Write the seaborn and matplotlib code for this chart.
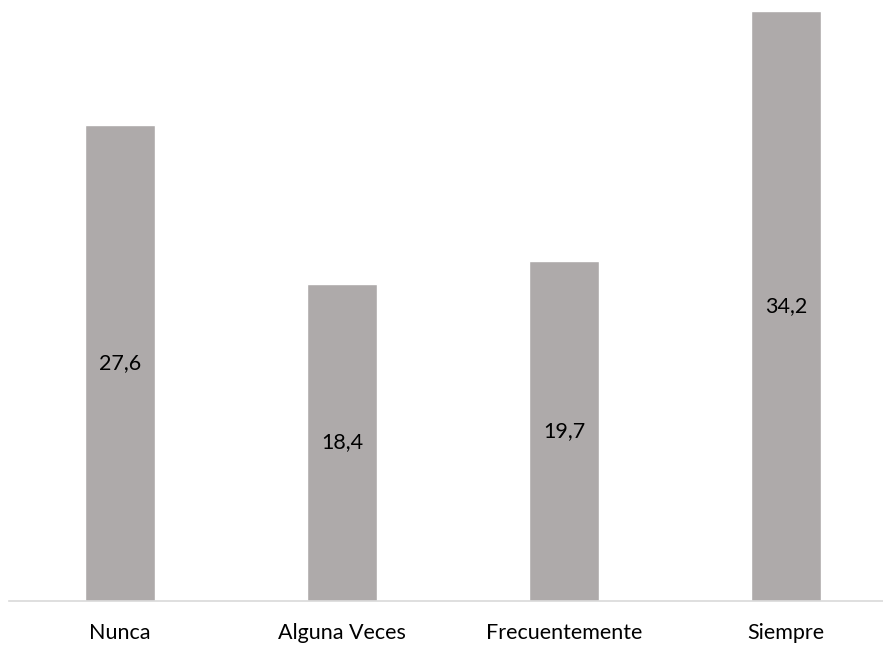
import matplotlib
matplotlib.use("Agg")
import matplotlib.pyplot as plt
import seaborn as sns
import pandas as pd

categories = ["Nunca", "Alguna Veces", "Frecuentemente", "Siempre"]
values = [27.6, 18.4, 19.7, 34.2]
value_labels = ["27,6", "18,4", "19,7", "34,2"]

sns.set_theme(style="white")
plt.rcParams['font.family'] = ['Lato', 'DejaVu Sans']

df = pd.DataFrame({"cat": categories, "val": values})

fig = plt.figure(figsize=(8.83, 6.45), dpi=100)
ax = fig.add_axes([9/883, 44/645, 874/883, 601/645])
sns.barplot(data=df, x="cat", y="val", color="#AEAAAA", saturation=1, width=0.315, ax=ax)

for i, (v, lab) in enumerate(zip(values, value_labels)):
    ax.text(i, v/2, lab, ha="center", va="center", fontsize=15.5, color="#000000")

ax.set_xlim(-0.5, 3.437)
ax.set_ylim(0, 34.84)
ax.set_xlabel("")
ax.set_ylabel("")
ax.set_yticks([])
for s in ["top", "right", "left"]:
    ax.spines[s].set_visible(False)
ax.spines["bottom"].set_color("#D9D9D9")
ax.spines["bottom"].set_linewidth(1.2)
ax.tick_params(axis="x", length=0, pad=16, labelsize=15.5, colors="#000000")

fig.savefig("out.png", dpi=100)
